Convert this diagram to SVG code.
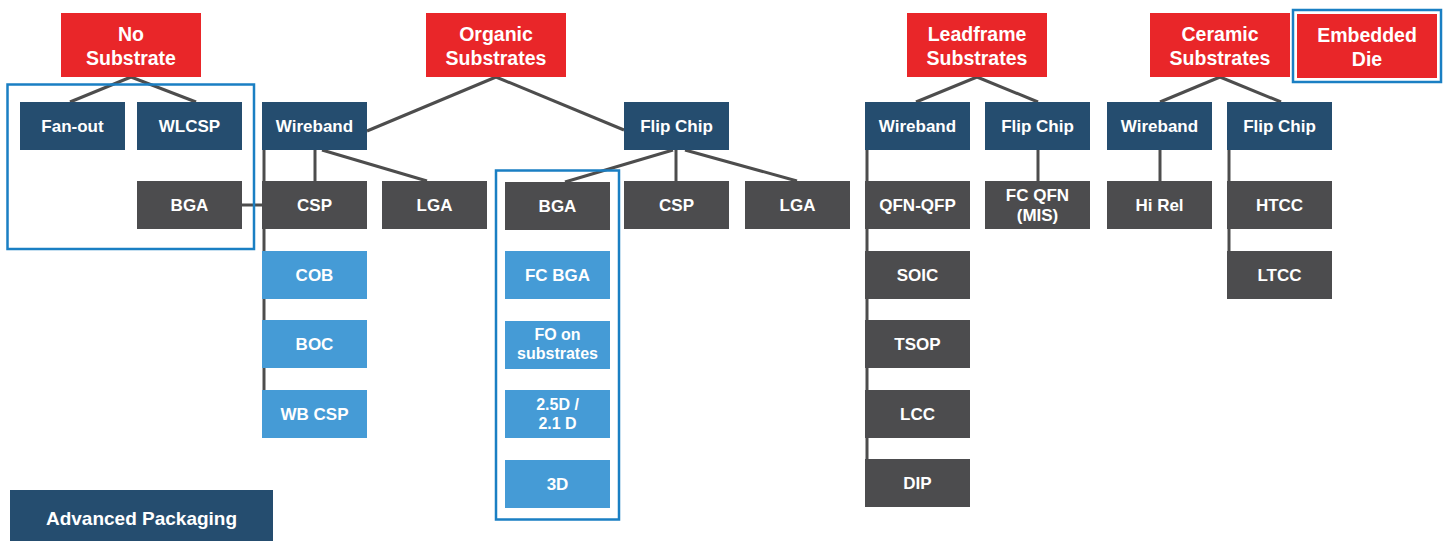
<svg xmlns="http://www.w3.org/2000/svg" width="1443" height="541" viewBox="0 0 1443 541">
<style>
text{font-family:"Liberation Sans",Arial,sans-serif;font-weight:bold;fill:#fff;text-anchor:middle}
.h{font-size:19.5px}
.c{font-size:17px}
.s{font-size:16px}
.red{fill:#e92629}
.db{fill:#254d6f}
.gr{fill:#4c4c4e}
.lb{fill:#459bd6}
.ol{fill:none;stroke:#1a7fc3;stroke-width:2.5}
#connectors line{stroke:#4d4d4d;stroke-width:3}
</style>
<rect width="1443" height="541" fill="#fff"/>
<g id="connectors">
<line x1="131" y1="77" x2="70" y2="102"/>
<line x1="131" y1="77" x2="196" y2="102"/>
<line x1="496" y1="77" x2="367" y2="131"/>
<line x1="496" y1="77" x2="624" y2="130"/>
<line x1="264" y1="150" x2="264" y2="390"/>
<line x1="315" y1="150" x2="315" y2="181"/>
<line x1="322" y1="150" x2="427" y2="181"/>
<line x1="242" y1="205" x2="262" y2="205"/>
<line x1="673" y1="150" x2="565" y2="182"/>
<line x1="676" y1="150" x2="676" y2="181"/>
<line x1="685" y1="150" x2="797" y2="181"/>
<line x1="977" y1="77" x2="916" y2="102"/>
<line x1="977" y1="77" x2="1038" y2="102"/>
<line x1="867" y1="150" x2="867" y2="459"/>
<line x1="1038" y1="150" x2="1038" y2="181"/>
<line x1="1220" y1="77" x2="1160" y2="102"/>
<line x1="1220" y1="77" x2="1281" y2="102"/>
<line x1="1160" y1="150" x2="1160" y2="181"/>
<line x1="1229" y1="150" x2="1229" y2="251"/>
</g>
<g id="outline-nosub"><rect class="ol" x="7.5" y="84.5" width="246.5" height="164.5"/></g>
<g id="outline-organic"><rect class="ol" x="496" y="170.5" width="123" height="349"/></g>
<g id="outline-embedded"><rect class="ol" x="1293" y="10" width="148" height="72"/></g>

<g id="no-substrate"><rect class="red" x="61" y="13" width="140" height="64"/><text class="h" x="131" y="41">No</text><text class="h" x="131" y="64.5">Substrate</text></g>
<g id="organic"><rect class="red" x="426" y="13" width="140" height="64"/><text class="h" x="496" y="41">Organic</text><text class="h" x="496" y="64.5">Substrates</text></g>
<g id="leadframe"><rect class="red" x="907" y="13" width="140" height="64"/><text class="h" x="977" y="41">Leadframe</text><text class="h" x="977" y="64.5">Substrates</text></g>
<g id="ceramic"><rect class="red" x="1150" y="13" width="140" height="64"/><text class="h" x="1220" y="41">Ceramic</text><text class="h" x="1220" y="64.5">Substrates</text></g>
<g id="embedded"><rect class="red" x="1297" y="14" width="140" height="64"/><text class="h" x="1367" y="42">Embedded</text><text class="h" x="1367" y="65.5">Die</text></g>

<g id="fanout"><rect class="db" x="20" y="102" width="105" height="48"/><text class="c" x="72.5" y="132">Fan-out</text></g>
<g id="wlcsp"><rect class="db" x="137" y="102" width="105" height="48"/><text class="c" x="189.5" y="132">WLCSP</text></g>
<g id="bga-nosub"><rect class="gr" x="137" y="181" width="105" height="48"/><text class="c" x="189.5" y="211">BGA</text></g>

<g id="org-wireband"><rect class="db" x="262" y="102" width="105" height="48"/><text class="c" x="314.5" y="132">Wireband</text></g>
<g id="org-csp-wb"><rect class="gr" x="262" y="181" width="105" height="48"/><text class="c" x="314.5" y="211">CSP</text></g>
<g id="org-lga-wb"><rect class="gr" x="382" y="181" width="105" height="48"/><text class="c" x="434.5" y="211">LGA</text></g>
<g id="cob"><rect class="lb" x="262" y="251" width="105" height="48"/><text class="c" x="314.5" y="281">COB</text></g>
<g id="boc"><rect class="lb" x="262" y="320" width="105" height="48"/><text class="c" x="314.5" y="350">BOC</text></g>
<g id="wbcsp"><rect class="lb" x="262" y="390" width="105" height="48"/><text class="c" x="314.5" y="420">WB CSP</text></g>

<g id="org-flipchip"><rect class="db" x="624" y="102" width="105" height="48"/><text class="c" x="676.5" y="132">Flip Chip</text></g>
<g id="org-bga-fc"><rect class="gr" x="505" y="182" width="105" height="48"/><text class="c" x="557.5" y="212">BGA</text></g>
<g id="org-csp-fc"><rect class="gr" x="624" y="181" width="105" height="48"/><text class="c" x="676.5" y="211">CSP</text></g>
<g id="org-lga-fc"><rect class="gr" x="745" y="181" width="105" height="48"/><text class="c" x="797.5" y="211">LGA</text></g>
<g id="fcbga"><rect class="lb" x="505" y="251" width="105" height="48"/><text class="c" x="557.5" y="281">FC BGA</text></g>
<g id="fo-on-sub"><rect class="lb" x="505" y="321" width="105" height="48"/><text class="s" x="557.5" y="340">FO on</text><text class="s" x="557.5" y="359">substrates</text></g>
<g id="d25"><rect class="lb" x="505" y="390" width="105" height="48"/><text class="s" x="557.5" y="410">2.5D /</text><text class="s" x="557.5" y="429">2.1 D</text></g>
<g id="d3"><rect class="lb" x="505" y="460" width="105" height="48"/><text class="c" x="557.5" y="490">3D</text></g>

<g id="lf-wireband"><rect class="db" x="865" y="102" width="105" height="48"/><text class="c" x="917.5" y="132">Wireband</text></g>
<g id="lf-flipchip"><rect class="db" x="985" y="102" width="105" height="48"/><text class="c" x="1037.5" y="132">Flip Chip</text></g>
<g id="qfn-qfp"><rect class="gr" x="865" y="181" width="105" height="48"/><text class="c" x="917.5" y="211">QFN-QFP</text></g>
<g id="soic"><rect class="gr" x="865" y="251" width="105" height="48"/><text class="c" x="917.5" y="281">SOIC</text></g>
<g id="tsop"><rect class="gr" x="865" y="320" width="105" height="48"/><text class="c" x="917.5" y="350">TSOP</text></g>
<g id="lcc"><rect class="gr" x="865" y="390" width="105" height="48"/><text class="c" x="917.5" y="420">LCC</text></g>
<g id="dip"><rect class="gr" x="865" y="459" width="105" height="48"/><text class="c" x="917.5" y="489">DIP</text></g>
<g id="fcqfn"><rect class="gr" x="985" y="181" width="105" height="48"/><text class="c" x="1037.5" y="201">FC QFN</text><text class="c" x="1037.5" y="221">(MIS)</text></g>

<g id="cer-wireband"><rect class="db" x="1107" y="102" width="105" height="48"/><text class="c" x="1159.5" y="132">Wireband</text></g>
<g id="cer-flipchip"><rect class="db" x="1227" y="102" width="105" height="48"/><text class="c" x="1279.5" y="132">Flip Chip</text></g>
<g id="hirel"><rect class="gr" x="1107" y="181" width="105" height="48"/><text class="c" x="1159.5" y="211">Hi Rel</text></g>
<g id="htcc"><rect class="gr" x="1227" y="181" width="105" height="48"/><text class="c" x="1279.5" y="211">HTCC</text></g>
<g id="ltcc"><rect class="gr" x="1227" y="251" width="105" height="48"/><text class="c" x="1279.5" y="281">LTCC</text></g>

<g id="legend"><rect class="db" x="10" y="490" width="263" height="51"/><text class="c" style="font-size:19px" x="141.5" y="525">Advanced Packaging</text></g>
</svg>
